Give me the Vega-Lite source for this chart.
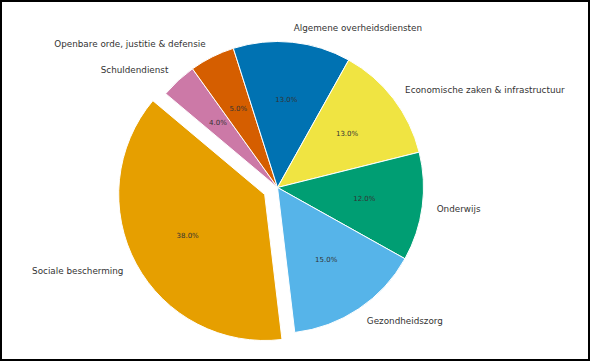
{
  "$schema": "https://vega.github.io/schema/vega-lite/v6.json",
  "width": 590,
  "height": 361,
  "autosize": {"type": "none"},
  "padding": 0,
  "background": "white",
  "config": {
    "view": {"stroke": null},
    "text": {"font": "DejaVu Sans"}
  },
  "data": {
    "values": [
      {"category": "Schuldendienst", "value": 4},
      {"category": "Openbare orde, justitie & defensie", "value": 5},
      {"category": "Algemene overheidsdiensten", "value": 13},
      {"category": "Economische zaken & infrastructuur", "value": 13},
      {"category": "Onderwijs", "value": 12},
      {"category": "Gezondheidszorg", "value": 15},
      {"category": "Sociale bescherming", "value": 38}
    ]
  },
  "transform": [
    {"window": [{"op": "row_number", "as": "rn"}]},
    {"stack": "value", "groupby": [], "sort": [{"field": "rn", "order": "ascending"}], "as": ["v0", "v1"]},
    {"calculate": "(datum.v0 + datum.v1) / 2", "as": "mid"},
    {"calculate": "format(datum.value, '.1f') + '%'", "as": "pct"},
    {"calculate": "sin(-50 * PI / 180 + datum.mid * 3.6 * PI / 180) < 0", "as": "leftSide"}
  ],
  "layer": [
    {
      "transform": [{"filter": "datum.rn == 1"}],
      "mark": {"type": "rect", "x": 0, "y": 0, "x2": {"expr": "width"}, "y2": {"expr": "height"}, "fill": null, "stroke": "black", "strokeWidth": 4},
      "encoding": {}
    },
    {
      "transform": [{"filter": "datum.category != 'Sociale bescherming'"}],
      "mark": {"type": "arc", "radius": 146, "x": 277.5, "y": 187.5, "stroke": "white", "strokeWidth": 1},
      "encoding": {
        "theta": {"field": "v0", "type": "quantitative", "scale": {"domain": [0, 100], "range": [-0.87266, 5.41052]}},
        "theta2": {"field": "v1"},
        "color": {
          "field": "category",
          "type": "nominal",
          "legend": null,
          "scale": {
            "domain": ["Schuldendienst", "Openbare orde, justitie & defensie", "Algemene overheidsdiensten", "Economische zaken & infrastructuur", "Onderwijs", "Gezondheidszorg", "Sociale bescherming"],
            "range": ["#CC79A7", "#D55E00", "#0072B2", "#F0E442", "#009E73", "#56B4E9", "#E69F00"]
          }
        }
      }
    },
    {
      "transform": [{"filter": "datum.category == 'Sociale bescherming'"}],
      "mark": {"type": "arc", "radius": 146, "x": 264.7, "y": 194.5, "stroke": "white", "strokeWidth": 1},
      "encoding": {
        "theta": {"field": "v0", "type": "quantitative", "scale": {"domain": [0, 100], "range": [-0.87266, 5.41052]}},
        "theta2": {"field": "v1"},
        "color": {"field": "category", "type": "nominal", "legend": null}
      }
    },
    {
      "transform": [{"filter": "datum.category != 'Sociale bescherming' && datum.leftSide"}],
      "mark": {"type": "text", "radius": 160.6, "x": 277.5, "y": 187.5, "align": "right", "baseline": "middle", "fontSize": 8.8},
      "encoding": {
        "theta": {"field": "mid", "type": "quantitative", "stack": null, "scale": {"domain": [0, 100], "range": [-0.87266, 5.41052]}},
        "text": {"field": "category"},
        "color": {"value": "#333333"}
      }
    },
    {
      "transform": [{"filter": "datum.category != 'Sociale bescherming' && !datum.leftSide"}],
      "mark": {"type": "text", "radius": 160.6, "x": 277.5, "y": 187.5, "align": "left", "baseline": "middle", "fontSize": 8.8},
      "encoding": {
        "theta": {"field": "mid", "type": "quantitative", "stack": null, "scale": {"domain": [0, 100], "range": [-0.87266, 5.41052]}},
        "text": {"field": "category"},
        "color": {"value": "#333333"}
      }
    },
    {
      "transform": [{"filter": "datum.category == 'Sociale bescherming'"}],
      "mark": {"type": "text", "radius": 160.6, "x": 264.7, "y": 194.5, "align": "right", "baseline": "middle", "fontSize": 8.8},
      "encoding": {
        "theta": {"field": "mid", "type": "quantitative", "stack": null, "scale": {"domain": [0, 100], "range": [-0.87266, 5.41052]}},
        "text": {"field": "category"},
        "color": {"value": "#333333"}
      }
    },
    {
      "transform": [{"filter": "datum.category != 'Sociale bescherming'"}],
      "mark": {"type": "text", "radius": 87.6, "x": 277.5, "y": 187.5, "align": "center", "baseline": "middle", "fontSize": 7},
      "encoding": {
        "theta": {"field": "mid", "type": "quantitative", "stack": null, "scale": {"domain": [0, 100], "range": [-0.87266, 5.41052]}},
        "text": {"field": "pct"},
        "color": {"value": "#333333"}
      }
    },
    {
      "transform": [{"filter": "datum.category == 'Sociale bescherming'"}],
      "mark": {"type": "text", "radius": 87.6, "x": 264.7, "y": 194.5, "align": "center", "baseline": "middle", "fontSize": 7},
      "encoding": {
        "theta": {"field": "mid", "type": "quantitative", "stack": null, "scale": {"domain": [0, 100], "range": [-0.87266, 5.41052]}},
        "text": {"field": "pct"},
        "color": {"value": "#333333"}
      }
    }
  ]
}
